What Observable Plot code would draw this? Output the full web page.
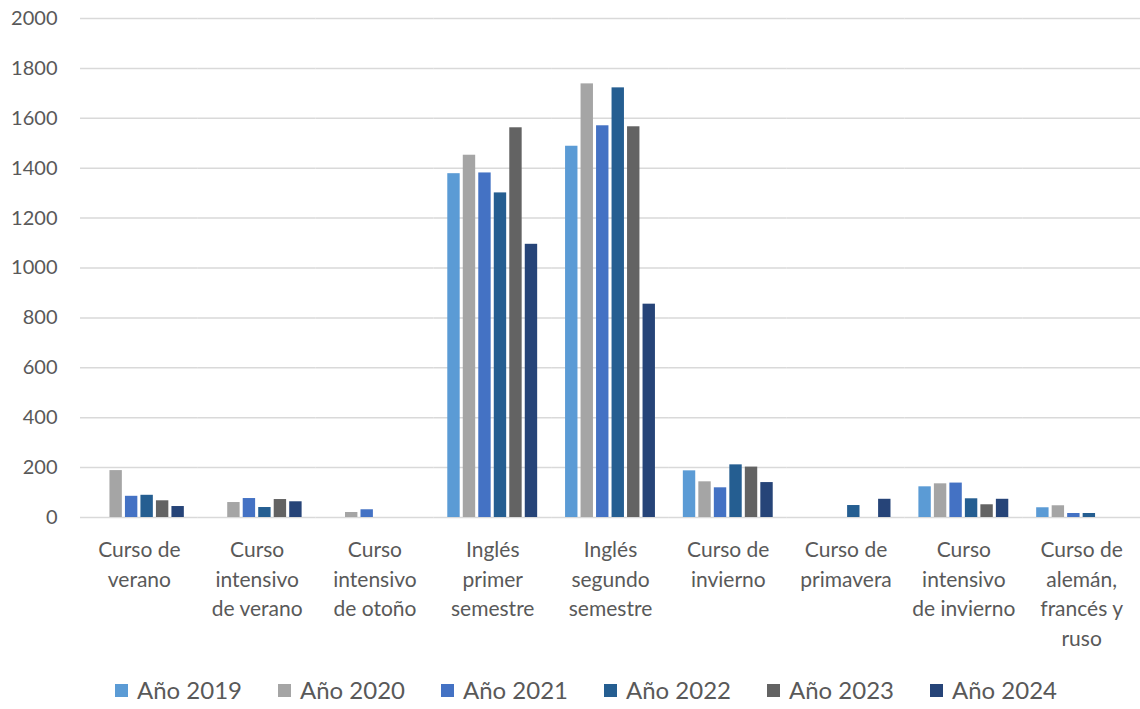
<!DOCTYPE html>
<html>
<head>
<meta charset="utf-8">
<script src="https://cdn.jsdelivr.net/npm/d3@7"></script>
<script src="https://cdn.jsdelivr.net/npm/@observablehq/plot@0.6"></script>
<style>
  body { margin: 0; background: #fff; font-family: Lato, "Open Sans", sans-serif; }
  #chart { width: 1140px; }
  .legend { display: flex; justify-content: flex-start; padding-left: 115px; margin-top: 16px; font-size: 24px; color: #595959; line-height: 1; }
  .legend .item { display: flex; align-items: center; width: 163px; }
  .legend .sw { width: 13px; height: 13px; margin-right: 9px; }
</style>
</head>
<body>
<div id="chart"></div>
<script>
const courses = ["verano", "intVerano", "intOtono", "ingles1", "ingles2", "invierno", "primavera", "intInvierno", "idiomas"];
const courseLabels = [
  "Curso de\nverano",
  "Curso\nintensivo\nde verano",
  "Curso\nintensivo\nde otoño",
  "Inglés\nprimer\nsemestre",
  "Inglés\nsegundo\nsemestre",
  "Curso de\ninvierno",
  "Curso de\nprimavera",
  "Curso\nintensivo\nde invierno",
  "Curso de\nalemán,\nfrancés y\nruso"
];
const years = ["Año 2019", "Año 2020", "Año 2021", "Año 2022", "Año 2023", "Año 2024"];
const colors = ["#5B9BD5", "#A5A5A5", "#4472C4", "#255E91", "#636363", "#264478"];

// values per course, ordered by year 2019..2024 (null = no bar)
const v2019 = [null, null, null, 1378, 1488, 187, null, 123, 39];
const v2020 = [188, 60, 20, 1452, 1738, 143, null, 135, 47];
const v2021 = [85, 76, 31, 1381, 1570, 119, null, 138, 16];
const v2022 = [89, 40, null, 1301, 1722, 211, 48, 75, 16];
const v2023 = [67, 72, null, 1562, 1566, 202, null, 51, null];
const v2024 = [44, 63, null, 1095, 855, 140, 73, 73, null];
const yTicks = [0, 200, 400, 600, 800, 1000, 1200, 1400, 1600, 1800, 2000];

const series = [v2019, v2020, v2021, v2022, v2023, v2024];
const data = [];
series.forEach((vals, yi) => {
  vals.forEach((v, ci) => {
    if (v != null) data.push({course: courses[ci], year: years[yi], value: v});
  });
});
const labelOf = Object.fromEntries(courses.map((c, i) => [c, courseLabels[i]]));

const chart = Plot.plot({
  width: 1140,
  height: 662,
  marginLeft: 80,
  marginRight: 0,
  marginTop: 18,
  marginBottom: 145,
  style: {fontFamily: "Lato, 'Open Sans', sans-serif", color: "#595959", background: "#fff"},
  fx: {domain: courses, padding: 0, round: false, label: null, axis: null},
  x: {domain: years, paddingInner: 0.2, paddingOuter: 0.9, round: false, axis: null},
  y: {domain: [0, 2000], ticks: yTicks, label: null},
  color: {domain: years, range: colors},
  marks: [
    Plot.gridY(yTicks, {stroke: "#D9D9D9", strokeOpacity: 1, strokeWidth: 1.5, facet: "exclude"}),
    Plot.barY(data, {fx: "course", x: "year", y: "value", fill: "year"}),
    Plot.axisY(yTicks, {tickSize: 0, tickPadding: 23, fontSize: 20, fill: "#595959", tickFormat: d => String(d), label: null}),
    Plot.axisFx({anchor: "bottom", tickSize: 0, tickPadding: 19, fontSize: 21, lineHeight: 1.4, fill: "#595959", tickFormat: d => labelOf[d], label: null})
  ]
});
document.getElementById("chart").appendChild(chart);

const legend = document.createElement("div");
legend.className = "legend";
years.forEach((y, i) => {
  const item = document.createElement("div");
  item.className = "item";
  const sw = document.createElement("span");
  sw.className = "sw";
  sw.style.background = colors[i];
  const t = document.createElement("span");
  t.textContent = y;
  item.appendChild(sw);
  item.appendChild(t);
  legend.appendChild(item);
});
document.getElementById("chart").appendChild(legend);
</script>
</body>
</html>
